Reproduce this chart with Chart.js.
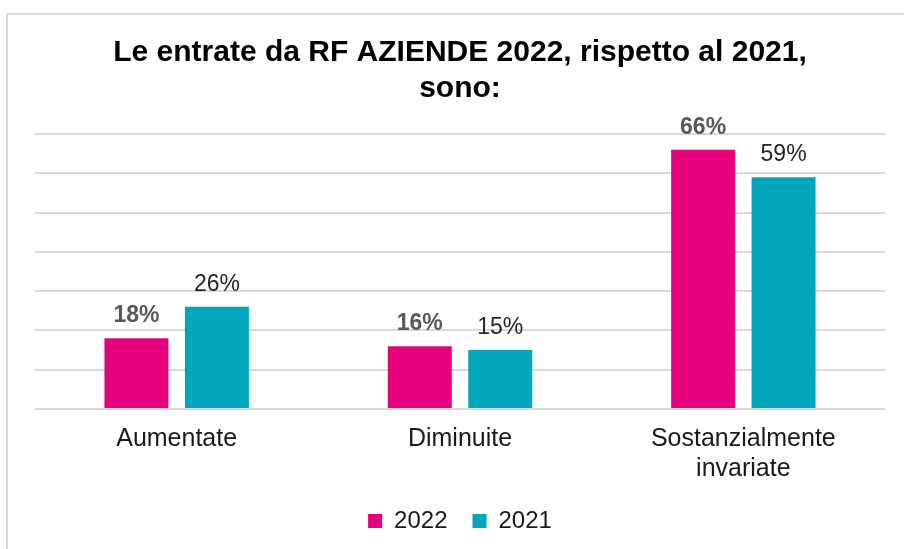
<!DOCTYPE html>
<html>
<head>
<meta charset="utf-8">
<script src="https://cdn.jsdelivr.net/npm/chart.js@4"></script>
<style>
  html, body { margin: 0; padding: 0; background: #ffffff; }
  #wrap { position: relative; width: 904px; height: 549px; overflow: hidden; }
  #frame { position: absolute; left: 6px; top: 13px; width: 1000px; height: 1000px;
           border-top: 2px solid #d9d9d9; border-left: 2px solid #d9d9d9; }
  #c { position: absolute; left: 0; top: 0; }
</style>
</head>
<body>
<div id="wrap">
  <div id="frame"></div>
  <canvas id="c" width="904" height="549"></canvas>
</div>
<script>
const titleLines = ['Le entrate da RF AZIENDE 2022, rispetto al 2021,', 'sono:'];
const categories = [['Aumentate'], ['Diminuite'], ['Sostanzialmente', 'invariate']];
const seriesNames = ['2022', '2021'];
const values2022 = [18, 16, 66];
const values2021 = [26, 15, 59];
const yTicks = [0, 10, 20, 30, 40, 50, 60, 70];

const FONT = "'Liberation Sans', Arial, sans-serif";

const valueLabels = {
  id: 'valueLabels',
  afterDatasetsDraw(chart) {
    const ctx = chart.ctx;
    ctx.save();
    ctx.textAlign = 'center';
    ctx.textBaseline = 'alphabetic';
    chart.data.datasets.forEach((ds, di) => {
      const meta = chart.getDatasetMeta(di);
      ctx.font = (di === 0 ? 'bold ' : '') + '23px ' + FONT;
      ctx.fillStyle = di === 0 ? '#595959' : '#262626';
      meta.data.forEach((bar, i) => {
        ctx.fillText(ds.data[i] + '%', bar.x, bar.y - 16);
      });
    });
    ctx.restore();
  }
};

new Chart(document.getElementById('c'), {
  type: 'bar',
  data: {
    labels: categories,
    datasets: [
      { label: seriesNames[0], data: values2022, backgroundColor: '#E6007E', borderWidth: 0,
        categoryPercentage: 0.568, barPercentage: 0.795 },
      { label: seriesNames[1], data: values2021, backgroundColor: '#00A6B9', borderWidth: 0,
        categoryPercentage: 0.568, barPercentage: 0.795 }
    ]
  },
  options: {
    responsive: false,
    animation: false,
    devicePixelRatio: 1,
    layout: { padding: { left: 35, right: 19, top: 0, bottom: 6 } },
    plugins: {
      title: {
        display: true,
        text: titleLines,
        color: '#000000',
        font: { family: FONT, size: 30, weight: 'bold', lineHeight: 1.2 },
        padding: { top: 35, bottom: 27 }
      },
      legend: {
        display: true,
        position: 'bottom',
        labels: {
          boxWidth: 14,
          boxHeight: 14,
          padding: 25,
          color: '#1a1a1a',
          font: { family: FONT, size: 24 }
        }
      },
      tooltip: { enabled: false }
    },
    scales: {
      x: {
        grid: { display: false, drawTicks: false },
        border: { display: false },
        ticks: { color: '#1a1a1a', padding: 15, font: { family: FONT, size: 25, lineHeight: 1.2 } },
        afterFit: (scale) => { scale.height = 75; }
      },
      y: {
        min: yTicks[0],
        max: yTicks[yTicks.length - 1],
        afterBuildTicks: (scale) => { scale.ticks = yTicks.map(v => ({ value: v })); },
        grid: { color: '#d9d9d9', lineWidth: 2, drawTicks: false },
        border: { display: false },
        ticks: { display: false }
      }
    }
  },
  plugins: [valueLabels]
});
</script>
</body>
</html>
